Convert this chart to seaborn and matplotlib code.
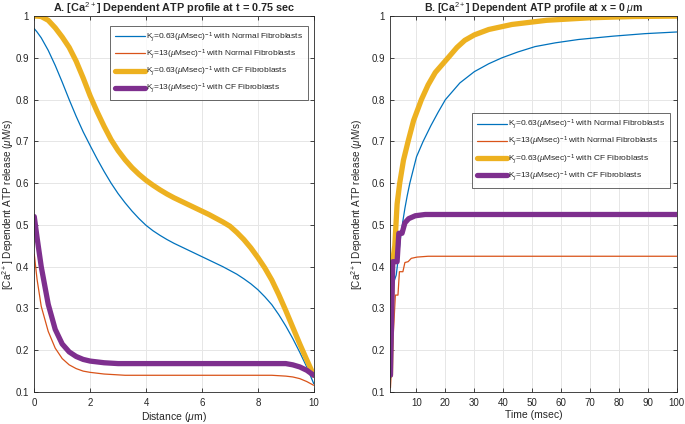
import pandas as pd
import numpy as np
import matplotlib
matplotlib.use("Agg")
import matplotlib.pyplot as plt
import seaborn as sns

sns.set_style("ticks")
plt.rcParams['font.family'] = ['Liberation Sans', 'DejaVu Sans']
plt.rcParams['mathtext.fontset'] = 'custom'
plt.rcParams['mathtext.rm'] = 'Liberation Sans'
plt.rcParams['mathtext.it'] = 'Liberation Sans:italic'
plt.rcParams['mathtext.bf'] = 'Liberation Sans:bold'

# series labels / colours (MATLAB default order)
labels = [r"K$_j$=0.63($\mu$Msec)$^{-1}$ with Normal Fibroblasts",
          r"K$_j$=13($\mu$Msec)$^{-1}$ with Normal Fibroblasts",
          r"K$_j$=0.63($\mu$Msec)$^{-1}$ with CF Fibroblasts",
          r"K$_j$=13($\mu$Msec)$^{-1}$ with CF Fibroblasts"]
colors = ["#0072BD", "#D95319", "#EDB120", "#7E2F8E"]
widths = [0.9, 0.9, 3.8, 3.8]

# panel A: profile along distance at t = 0.75 sec
distance = [0, 0.1, 0.25, 0.5, 0.75, 1, 1.25, 1.5, 1.75, 2, 2.25, 2.5, 2.75,
            3, 3.25, 3.5, 3.75, 4, 4.25, 4.5, 4.75, 5, 5.25, 5.5, 5.75, 6,
            6.25, 6.5, 6.75, 7, 7.25, 7.5, 7.75, 8, 8.25, 8.5, 8.75, 9, 9.25,
            9.5, 9.75, 10]
a_normal_063 = [0.97, 0.962, 0.948, 0.918, 0.882, 0.842, 0.8, 0.76, 0.723, 0.69,
                0.658, 0.628, 0.6, 0.575, 0.553, 0.533, 0.515, 0.499, 0.486,
                0.475, 0.465, 0.456, 0.448, 0.44, 0.432, 0.424, 0.416, 0.408,
                0.4, 0.391, 0.382, 0.371, 0.359, 0.345, 0.328, 0.309, 0.285,
                0.258, 0.228, 0.195, 0.16, 0.12]
a_normal_13 = [0.43, 0.37, 0.305, 0.245, 0.205, 0.18, 0.165, 0.156, 0.15, 0.147,
               0.145, 0.143, 0.142, 0.141, 0.14, 0.14, 0.14, 0.14, 0.14, 0.14,
               0.14, 0.14, 0.14, 0.14, 0.14, 0.14, 0.14, 0.14, 0.14, 0.14,
               0.14, 0.14, 0.14, 0.14, 0.14, 0.14, 0.139, 0.138, 0.136, 0.132,
               0.125, 0.116]
a_cf_063 = [1.0, 1.0, 0.999, 0.99, 0.972, 0.95, 0.925, 0.892, 0.852, 0.809,
            0.771, 0.736, 0.704, 0.678, 0.656, 0.637, 0.621, 0.607, 0.595,
            0.584, 0.574, 0.565, 0.557, 0.549, 0.541, 0.533, 0.525, 0.516,
            0.507, 0.497, 0.482, 0.465, 0.445, 0.422, 0.397, 0.368, 0.333,
            0.295, 0.255, 0.215, 0.177, 0.14]
a_cf_13 = [0.52, 0.47, 0.40, 0.31, 0.25, 0.215, 0.196, 0.185, 0.178, 0.174,
           0.172, 0.17, 0.169, 0.168, 0.168, 0.168, 0.168, 0.168, 0.168, 0.168,
           0.168, 0.168, 0.168, 0.168, 0.168, 0.168, 0.168, 0.168, 0.168, 0.168,
           0.168, 0.168, 0.168, 0.168, 0.168, 0.168, 0.168, 0.168, 0.165, 0.16,
           0.152, 0.14]

# panel B: profile over time at x = 0 um
t_normal_063 = [1, 1.5, 2.5, 3, 3.7, 4.5, 5.2, 6, 6.8, 7.7, 10, 12.3, 15, 17.5,
                20, 25, 30, 35, 39.5, 45, 51, 58, 66, 78, 89, 100]
b_normal_063 = [0.13, 0.35, 0.37, 0.38, 0.42, 0.47, 0.505, 0.54, 0.57, 0.6,
                0.663, 0.7, 0.738, 0.77, 0.8, 0.84, 0.867, 0.886, 0.9, 0.914,
                0.927, 0.936, 0.944, 0.952, 0.958, 0.962]
t_normal_13 = [1, 2.7, 3.6, 4.1, 5.3, 6, 7.1, 8.2, 10.2, 14, 100]
b_normal_13 = [0.11, 0.332, 0.332, 0.388, 0.388, 0.41, 0.412, 0.42, 0.423,
               0.425, 0.425]
t_cf_063 = [1, 1.7, 2.5, 3.3, 4.2, 5.5, 7.1, 9, 11.7, 14, 16.5, 20.9, 24, 26.7,
            30, 35, 43, 55, 70, 85, 100]
b_cf_063 = [0.14, 0.41, 0.45, 0.55, 0.6, 0.655, 0.7, 0.75, 0.8, 0.835, 0.865,
            0.9, 0.925, 0.942, 0.955, 0.968, 0.98, 0.99, 0.996, 0.999, 1.0]
t_cf_13 = [1, 1.8, 3.3, 3.9, 5, 6, 7.3, 9.6, 13, 20, 100]
b_cf_13 = [0.14, 0.412, 0.412, 0.48, 0.48, 0.505, 0.515, 0.522, 0.525, 0.525,
           0.525]

df_a = pd.concat([pd.DataFrame({'x': distance, 'y': v, 'series': lab})
                  for v, lab in zip([a_normal_063, a_normal_13, a_cf_063, a_cf_13], labels)])
df_b = pd.concat([pd.DataFrame({'x': t, 'y': v, 'series': lab})
                  for t, v, lab in zip([t_normal_063, t_normal_13, t_cf_063, t_cf_13],
                                       [b_normal_063, b_normal_13, b_cf_063, b_cf_13], labels)])

fig = plt.figure(figsize=(6.85, 4.24), dpi=100)
ax1 = fig.add_axes([0.050, 0.0755, 0.408, 0.8865])
ax2 = fig.add_axes([0.570, 0.0755, 0.418, 0.8865])

ylab = r"[Ca$^{2+}$] Dependent ATP release ($\mu$M/s)"
yt = [0.1, 0.2, 0.3, 0.4, 0.5, 0.6, 0.7, 0.8, 0.9, 1]
txt = '#262626'

for ax, df in [(ax1, df_a), (ax2, df_b)]:
    for lab, c, w in zip(labels, colors, widths):
        sns.lineplot(data=df[df.series == lab], x='x', y='y', ax=ax, color=c,
                     linewidth=w, label=lab, estimator=None, sort=False)
    ax.set_ylim(0.1, 1)
    ax.set_yticks(yt)
    ax.set_yticklabels([f"{v:g}" for v in yt])
    ax.grid(True, color='#e6e6e6', linewidth=0.7)
    ax.set_axisbelow(True)
    ax.tick_params(direction='in', length=3, top=True, right=True, pad=4,
                   labelsize=7, colors=txt, width=0.6)
    for s in ax.spines.values():
        s.set_color(txt)
        s.set_linewidth(0.6)
    ax.set_ylabel(ylab, fontsize=7.2, color=txt)

ax1.yaxis.set_label_coords(-0.064, 0.5)
ax2.yaxis.set_label_coords(-0.09, 0.5)

ax1.set_xlim(0, 10)
ax1.set_xticks([0, 2, 4, 6, 8, 10])
ax1.set_xlabel(r"Distance ($\mu$m)", fontsize=7.5, color=txt, labelpad=1.5)
ax1.set_title(r"A. [Ca$^{2+}$] Dependent ATP profile at t = 0.75 sec",
              fontsize=7.8, fontweight='bold', pad=3)

ax2.set_xlim(1, 100)
ax2.set_xticks([10, 20, 30, 40, 50, 60, 70, 80, 90, 100])
ax2.set_xlabel("Time (msec)", fontsize=7.5, color=txt, labelpad=1.5)
ax2.set_title(r"B. [Ca$^{2+}$] Dependent ATP profile at x = 0 $\mu$m",
              fontsize=7.6, fontweight='bold', pad=3)

leg_kw = dict(fontsize=6.0, frameon=True, fancybox=False, edgecolor=txt,
              handlelength=3.6, handletextpad=0.1, borderpad=0.6,
              labelspacing=0.5, borderaxespad=0)
l1 = ax1.legend(loc='upper right', bbox_to_anchor=(0.98, 0.975), **leg_kw)
l2 = ax2.legend(loc='upper right', bbox_to_anchor=(0.976, 0.742), **leg_kw)
for l in (l1, l2):
    l.get_frame().set_linewidth(0.6)

fig.savefig("out.png", dpi=100)
